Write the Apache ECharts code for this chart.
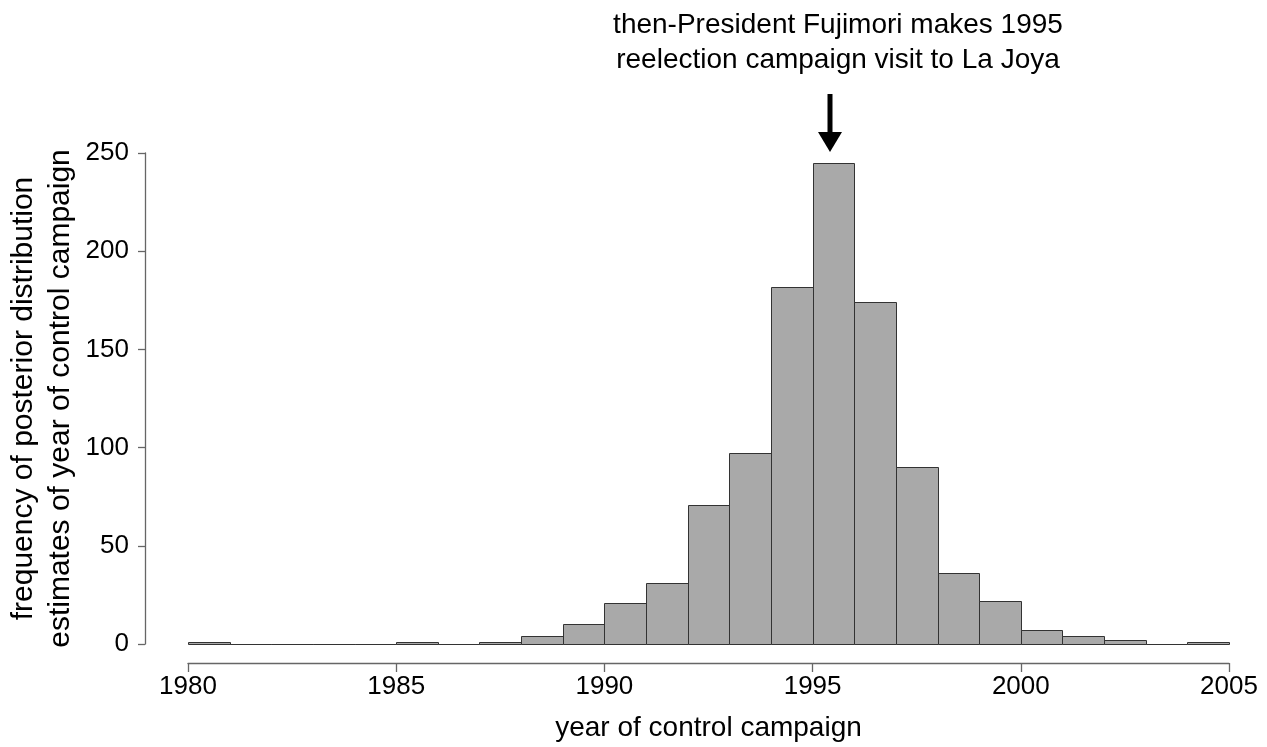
<!DOCTYPE html>
<html>
<head>
<meta charset="utf-8">
<script src="https://cdn.jsdelivr.net/npm/echarts@6/dist/echarts.min.js"></script>
<style>html,body{margin:0;padding:0;background:#fff}#c{width:1267px;height:747px}</style>
</head>
<body>
<div id="c"></div>
<script>
// Histogram bins (1-year width), from the reference picture
const binStarts = [1980,1981,1982,1983,1984,1985,1986,1987,1988,1989,1990,1991,1992,1993,1994,1995,1996,1997,1998,1999,2000,2001,2002,2003,2004];
const binWidth = 1;
const counts = [1,0,0,0,0,1,0,1,4,10,21,31,71,97,182,245,174,90,36,22,7,4,2,0,1];
const xTicks = [1980,1985,1990,1995,2000,2005];
const yTicks = [0,50,100,150,200,250];
const annotationYear = 1995.5;
const annotationText = 'then-President Fujimori makes 1995\nreelection campaign visit to La Joya';
const xTitle = 'year of control campaign';
const yTitle = 'frequency of posterior distribution\nestimates of year of control campaign';

const FONT = '"Liberation Sans", Arial, sans-serif';
const data = binStarts.map((s, i) => [s, s + binWidth, counts[i]]);

const chart = echarts.init(document.getElementById('c'));
chart.setOption({
  animation: false,
  backgroundColor: '#fff',
  title: {
    text: annotationText,
    left: 833, top: 3, textAlign: 'center',
    textStyle: {fontFamily: FONT, fontSize: 28, fontWeight: 'normal', color: '#000', lineHeight: 35}
  },
  grid: {left: 188, right: 38, top: 153, bottom: 103, containLabel: false, outerBoundsMode: 'none'},
  xAxis: {
    type: 'value', min: xTicks[0], max: xTicks[xTicks.length - 1], interval: 5,
    offset: 19,
    axisLine: {show: true, onZero: false, lineStyle: {color: '#666', width: 1.3}},
    axisTick: {show: true, length: 9, lineStyle: {color: '#666', width: 1.3}},
    axisLabel: {fontFamily: FONT, fontSize: 26, color: '#000', margin: 11, formatter: v => String(v)},
    splitLine: {show: false},
    name: xTitle, nameLocation: 'middle', nameGap: 51,
    nameTextStyle: {fontFamily: FONT, fontSize: 28, color: '#000'}
  },
  yAxis: {
    type: 'value', min: yTicks[0], max: yTicks[yTicks.length - 1], interval: 50,
    offset: 43,
    axisLine: {show: true, onZero: false, lineStyle: {color: '#666', width: 1.3}},
    axisTick: {show: true, length: 7, lineStyle: {color: '#666', width: 1.3}},
    axisLabel: {fontFamily: FONT, fontSize: 26, color: '#000', margin: 16, formatter: v => String(v)},
    splitLine: {show: false},
    name: yTitle, nameLocation: 'middle', nameRotate: 90, nameGap: 66, nameMoveOverlap: false,
    nameTextStyle: {fontFamily: FONT, fontSize: 30, color: '#000', lineHeight: 37}
  },
  series: [{
    type: 'custom',
    data: data,
    encode: {x: [0, 1], y: 2},
    renderItem: function (params, api) {
      const a = api.coord([api.value(0), api.value(2)]);
      const b = api.coord([api.value(1), 0]);
      return {
        type: 'rect',
        shape: {x: Math.round(a[0]) + 0.5, y: Math.round(a[1]) + 0.5, width: Math.round(b[0]) - Math.round(a[0]), height: Math.round(b[1]) - Math.round(a[1])},
        style: {fill: '#a9a9a9', stroke: '#333', lineWidth: 1}
      };
    }
  }]
});

// annotation arrow anchored at the data coordinate of the annotated year
const p = chart.convertToPixel({xAxisIndex: 0, yAxisIndex: 0}, [annotationYear, yTicks[yTicks.length - 1]]);
const x = Math.round(p[0]) - 3, tip = p[1] - 1;
chart.setOption({
  graphic: [
    {type: 'line', shape: {x1: x, y1: tip - 58, x2: x, y2: tip - 14}, style: {stroke: '#000', lineWidth: 5}},
    {type: 'polygon', shape: {points: [[x - 12, tip - 20], [x + 12, tip - 20], [x, tip]]}, style: {fill: '#000'}}
  ]
});
</script>
</body>
</html>
